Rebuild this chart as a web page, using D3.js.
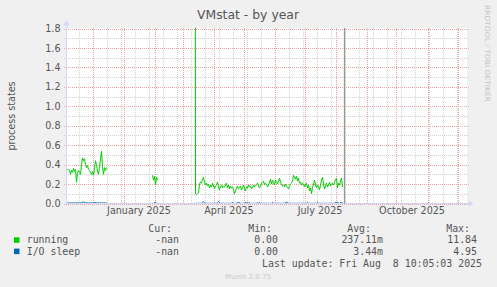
<!DOCTYPE html>
<head>
	<meta charset="utf-8">
	<title>VMstat - by year</title>

	<!-- D3.js, draws everything -->
	<script src="https://d3js.org/d3.v7.min.js"></script>

	<style>
		body {
			margin: 0;
			background: #f0f0f0;
		}
		svg text {
			font-family: "DejaVu Sans", sans-serif;
			fill: #555;
		}
		.mono {
			font-family: "DejaVu Sans Mono", monospace !important;
			font-size: 9.9px;
		}
	</style>
</head>

<body>
<div id="viz"></div>

<script>
// ---- data, one value per day ----
// the three stretches where munin had data
var segmentStarts = ["2024-11-05", "2025-01-30", "2025-03-13"];

var running1 = [
	.35, .35, .35, .34, .30, .34, .32, .36, .33, .35,
	.22, .31, .34, .32, .30, .40, .47, .44, .46, .40,
	.37, .39, .35, .34, .32, .30, .33, .29, .36, .44,
	.40, .33, .30, .38, .45, .54, .38, .30, .37, .34,
	.37
];
var running2 = [.29, .24, .28, .19, .27, .24];
var running3 = [
	11.84, .10, .09, .10, .11, .20, .22, .21, .25, .27,
	.22, .19, .21, .18, .20, .16, .19, .17, .21, .18,
	.15, .18, .19, .22, .17, .14, .18, .19, .16, .18,
	.17, .19, .21, .16, .19, .15, .18, .16, .17, .14,
	.10, .13, .16, .18, .15, .16, .18, .14, .16, .19,
	.15, .13, .17, .16, .19, .17, .18, .15, .16, .19,
	.17, .18, .20, .21, .18, .16, .17, .21, .22, .23,
	.19, .21, .20, .17, .19, .22, .25, .20, .24, .21,
	.19, .24, .22, .20, .23, .26, .22, .20, .18, .19,
	.17, .20, .18, .16, .15, .18, .20, .21, .23, .29,
	.27, .25, .28, .23, .26, .21, .22, .19, .21, .20,
	.17, .19, .21, .16, .19, .13, .16, .10, .17, .19,
	.24, .20, .16, .19, .17, .14, .19, .24, .27, .20,
	.15, .18, .21, .17, .19, .22, .18, .20, .21, .19,
	.22, .25, .26, .16, .21, .19, .23, .26, .17
];

var ioSleep1 = [
	.006, .006, .006, .006, .006, .006, .006, .006, .006, .006,
	.006, .006, .006, .006, .006, .010, .014, .016, .012, .008,
	.006, .006, .006, .006, .006, .006, .006, .006, .010, .010,
	.006, .006, .006, .006, .006, .006, .006, .006, .006, .006,
	.006
];
var ioSleep2 = [.002, .002, .010, .012, .002, .002];
var ioSleep3 = [
	.002, .002, .002, .002, .002, .002, .002, .002, .012, .018,
	.010, .004, .002, .002, .002, .002, .002, .002, .002, .002,
	.002, .002, .002, .010, .020, .012, .002, .002, .002, .002,
	.002, .002, .002, .002, .002, .002, .002, .002, .010, .002,
	.002, .002, .002, .010, .008, .012, .002, .002, .002, .002,
	.002, .010, .006, .012, .002, .010, .002, .002, .002, .002,
	.002, .002, .002, .010, .002, .012, .002, .002, .002, .002,
	.002, .002, .002, .002, .002, .002, .002, .002, .012, .002,
	.002, .002, .002, .002, .002, .002, .002, .002, .002, .002,
	.002, .010, .014, .008, .002, .002, .002, .002, .002, .002,
	.002, .002, .002, .002, .002, .002, .002, .002, .002, .002,
	.002, .002, .002, .012, .002, .002, .002, .002, .002, .002,
	.002, .002, .002, .012, .002, .002, .002, .002, .002, .002,
	.002, .002, .002, .002, .002, .002, .002, .002, .002, .002,
	.002, .012, .010, .014, .002, .002, .012, .010, .012
];

// axis ticks and legend text
var yTicks = [0, 0.2, 0.4, 0.6, 0.8, 1.0, 1.2, 1.4, 1.6, 1.8];
var yMinorTicks = [0.1, 0.3, 0.5, 0.7, 0.9, 1.1, 1.3, 1.5, 1.7];
var monthLabels = ["2025-01-01", "2025-04-01", "2025-07-01", "2025-10-01"];
var legendHeads = ["Cur:", "Min:", "Avg:", "Max:"];
var legendNames = ["running", "I/O sleep"];
var legendColors = ["#00cc00", "#0066b3"];
var legendCur = ["-nan", "-nan"];
var legendMin = ["0.00", "0.00"];
var legendAvg = ["237.11m", "3.44m"];
var legendMax = ["11.84", "4.95"];
var lastUpdate = "Fri Aug  8 10:05:03 2025";

// ---- layout ----
var W = 497, H = 287;
var plot = {left: 66.5, right: 466.5, top: 28.5, bottom: 203.5};
var minorColor = "#d2d2d2", majorColor = "#eaa2a2";

var parse = d3.timeParse("%Y-%m-%d");
var t0 = parse("2024-11-05");
var t1 = d3.timeDay.offset(t0, 400);     // munin year graph = 400 days

var x = d3.scaleTime().domain([t0, t1]).range([plot.left, plot.right]);
var y = d3.scaleLinear().domain([0, 1.8]).range([plot.bottom, plot.top]);

var svg = d3.select("#viz").append("svg")
	.attr("width", W)
	.attr("height", H)
	.style("display", "block");

svg.append("rect").attr("width", W).attr("height", H).attr("fill", "#f0f0f0");

// white canvas
svg.append("rect")
	.attr("x", plot.left - 0.5)
	.attr("y", plot.top - 0.5)
	.attr("width", plot.right - plot.left + 1)
	.attr("height", plot.bottom - plot.top + 1)
	.attr("fill", "#fff");

// ---- grid ----
var grid = svg.append("g");

function vLines(days, color, dash) {
	grid.append("g").selectAll("line").data(days).enter().append("line")
		.attr("stroke", color)
		.attr("stroke-dasharray", dash)
		.attr("x1", d => Math.round(x(d)) + 0.5).attr("x2", d => Math.round(x(d)) + 0.5)
		.attr("y1", plot.top - 0.5).attr("y2", plot.bottom);
}
function hLines(vals, color, dash) {
	grid.append("g").selectAll("line").data(vals).enter().append("line")
		.attr("stroke", color)
		.attr("stroke-dasharray", dash)
		.attr("x1", plot.left - 2.5).attr("x2", plot.right + 2)
		.attr("y1", d => Math.round(y(d)) + 0.5).attr("y2", d => Math.round(y(d)) + 0.5);
}

// minor vertical: every other sunday
var anchor = parse("2025-06-29");
var minorDays = [];
for (var k = -30; k < 30; k++) {
	var d = d3.timeDay.offset(anchor, 14 * k);
	if (d > t0 && d < t1) minorDays.push(d);
}
vLines(minorDays, minorColor, "1,1");
hLines(yMinorTicks, minorColor, "1,1");
// major: every month, every 0.2
vLines(d3.timeMonth.range(t0, t1), majorColor, "1,1");
hLines(yTicks, majorColor, "1,1");

// ---- series ----
function toPoints(start, values) {
	var s = parse(start);
	return values.map(function(v, i) { return {date: d3.timeDay.offset(s, i), value: v}; });
}
var runningSeries = [running1, running2, running3].map((v, i) => toPoints(segmentStarts[i], v));
var ioSleepSeries = [ioSleep1, ioSleep2, ioSleep3].map((v, i) => toPoints(segmentStarts[i], v));

svg.append("clipPath").attr("id", "clip")
	.append("rect")
	.attr("x", plot.left).attr("y", plot.top - 0.5)
	.attr("width", plot.right - plot.left).attr("height", plot.bottom - plot.top + 1);

var line = d3.line()
	.x(d => x(d.date))
	.y(d => y(d.value));

var lines = svg.append("g").attr("clip-path", "url(#clip)");

lines.selectAll(".running").data(runningSeries).enter().append("path")
	.attr("d", line)
	.attr("fill", "none")
	.attr("stroke", legendColors[0])
	.attr("stroke-width", 1);

lines.selectAll(".iosleep").data(ioSleepSeries).enter().append("path")
	.attr("d", line)
	.attr("fill", "none")
	.attr("stroke", legendColors[1])
	.attr("stroke-width", 1);

// ---- axes ----
var axisColor = "#cfd6f8";
svg.append("line")
	.attr("x1", plot.left).attr("x2", plot.left)
	.attr("y1", plot.bottom).attr("y2", plot.top - 5)
	.attr("stroke", axisColor);
svg.append("path")
	.attr("d", "M" + (plot.left - 3) + "," + (plot.top - 3) + "L" + plot.left + "," + (plot.top - 8) + "L" + (plot.left + 3) + "," + (plot.top - 3) + "Z")
	.attr("fill", axisColor);
svg.append("line")
	.attr("x1", plot.left).attr("x2", plot.right + 4)
	.attr("y1", plot.bottom).attr("y2", plot.bottom)
	.attr("stroke", axisColor);
svg.append("path")
	.attr("d", "M" + (plot.right + 2) + "," + (plot.bottom - 3) + "L" + (plot.right + 7) + "," + plot.bottom + "L" + (plot.right + 2) + "," + (plot.bottom + 3) + "Z")
	.attr("fill", axisColor);

// "now" rule at the last update
var nowX = Math.round(x(new Date(2025, 7, 8, 10, 5))) + 1.5;
svg.append("line")
	.attr("x1", nowX).attr("x2", nowX)
	.attr("y1", plot.top - 0.5).attr("y2", plot.bottom)
	.attr("stroke", "#949494")
	.attr("stroke-width", 1.3);

var yAxis = svg.append("g")
	.attr("transform", "translate(" + plot.left + ",0)")
	.call(d3.axisLeft(y).tickValues(yTicks).tickFormat(d3.format(".1f")).tickSize(0).tickPadding(6));
yAxis.select(".domain").remove();
yAxis.selectAll("text").style("font-size", "9.6px").attr("fill", "#555");

// month labels sit in the middle of their month
var fmtMonth = d3.timeFormat("%B %Y");
var xAxis = svg.append("g")
	.attr("transform", "translate(0," + plot.bottom + ")")
	.call(d3.axisBottom(x)
		.tickValues(monthLabels.map(m => d3.timeDay.offset(parse(m), 15)))
		.tickFormat(d => fmtMonth(d3.timeMonth.floor(d)))
		.tickSize(0).tickPadding(4));
xAxis.select(".domain").remove();
xAxis.selectAll("text").style("font-size", "9.6px").attr("fill", "#555");

// ---- titles ----
svg.append("text")
	.attr("x", 248).attr("y", 19)
	.attr("text-anchor", "middle")
	.style("font-size", "12.4px")
	.text("VMstat - by year");

svg.append("text")
	.attr("transform", "translate(15," + ((plot.top + plot.bottom) / 2) + ") rotate(-90)")
	.attr("text-anchor", "middle")
	.style("font-size", "9.6px")
	.text("process states");

svg.append("text")
	.attr("transform", "translate(485,5) rotate(90)")
	.attr("textLength", 97)
	.attr("lengthAdjust", "spacingAndGlyphs")
	.style("font-size", "7px")
	.style("fill", "#c4c4c4")
	.text("RRDTOOL / TOBI OETIKER");

// ---- legend ----
var colRight = [172, 272, 371, 470];
var valRight = [179, 278, 383, 477];
var legend = svg.append("g");

legend.selectAll(".head").data(legendHeads).enter().append("text")
	.attr("class", "mono")
	.attr("x", (d, i) => colRight[i]).attr("y", 232)
	.attr("text-anchor", "end")
	.text(d => d);

legendNames.forEach(function(name, r) {
	var yy = 243.3 + r * 11.3;
	legend.append("rect")
		.attr("x", 14).attr("y", yy - 6)
		.attr("width", 5.5).attr("height", 5.5)
		.attr("fill", legendColors[r]);
	legend.append("text").attr("class", "mono")
		.attr("x", 26.7).attr("y", yy).text(name);
	[legendCur[r], legendMin[r], legendAvg[r], legendMax[r]].forEach(function(v, c) {
		legend.append("text").attr("class", "mono")
			.attr("x", valRight[c]).attr("y", yy)
			.attr("text-anchor", "end")
			.text(v);
	});
});

legend.append("text").attr("class", "mono")
	.attr("x", 482).attr("y", 267.3)
	.attr("text-anchor", "end")
	.attr("xml:space", "preserve")
	.style("white-space", "pre")
	.text("Last update: " + lastUpdate);

svg.append("text")
	.attr("x", 248).attr("y", 278.5)
	.attr("text-anchor", "middle")
	.style("font-size", "7px")
	.style("fill", "#c8c8c8")
	.text("Munin 2.0.75");
</script>
</body>
</html>
